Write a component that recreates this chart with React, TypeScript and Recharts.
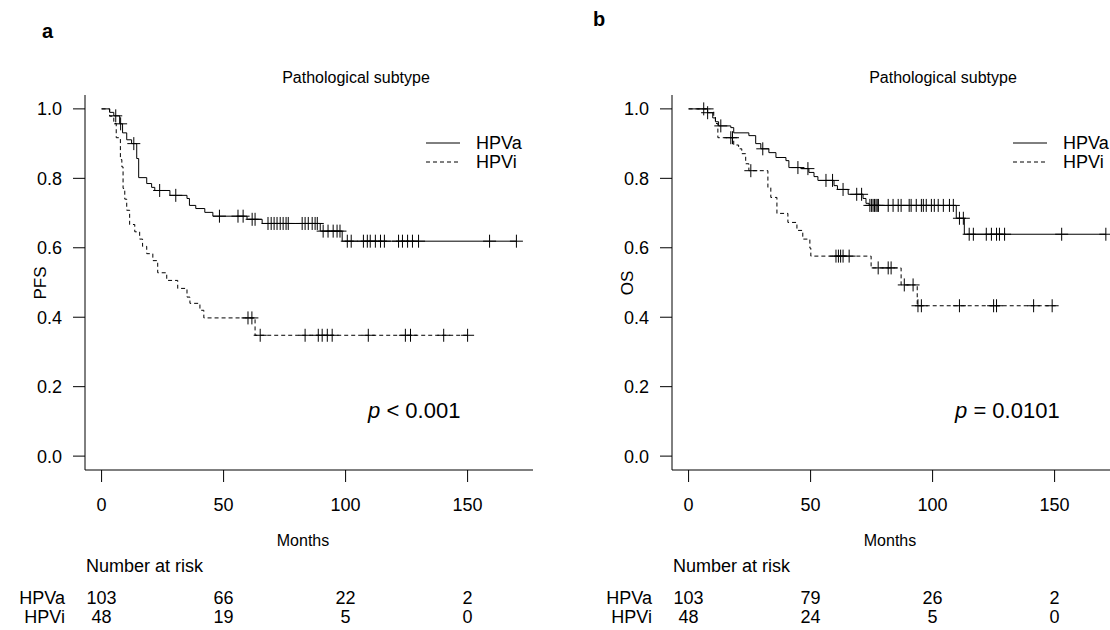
import { ComposedChart, Line, Scatter, XAxis, YAxis } from 'recharts';

const FONT = '"Liberation Sans", Arial, sans-serif';

const monthTicks = [0, 50, 100, 150];
const survTicks = [0, 0.2, 0.4, 0.6, 0.8, 1.0];
const riskTimes = [0, 50, 100, 150];
const groupNames = ['HPVa', 'HPVi'];

// a: PFS, HPVa
const pfsHpvaTimes = [3.3, 5.0, 7.4, 8.6, 10.3, 12.3, 14.4, 15.2, 18.5, 20.5, 21.8, 28, 35, 36, 38.6, 42.3, 45.6, 59.6, 65.8, 89.6, 98.6];
const pfsHpvaSurv = [0.99, 0.98, 0.957, 0.931, 0.911, 0.9, 0.857, 0.802, 0.785, 0.774, 0.765, 0.751, 0.742, 0.722, 0.713, 0.702, 0.691, 0.682, 0.67, 0.648, 0.619];
const pfsHpvaCensored = [5.8, 7.8, 13.2, 23.8, 30.4, 48.3, 55.9, 58, 61.7, 62.9, 68.2, 69.5, 70.7, 71.9, 73.2, 74.4, 75.6, 76.5, 82.2, 83.4, 84.7, 86.3, 87.5, 88.4, 90.8, 92.8, 94.9, 96.5, 97.7, 100.7, 102.3, 107.3, 108.9, 110.1, 112.2, 114.3, 115.9, 121.7, 123.3, 125.4, 127.4, 129.9, 159, 170];
const pfsHpvaEnd = 170;

// a: PFS, HPVi
const pfsHpviTimes = [3.3, 5.0, 6.0, 7.7, 8.3, 8.8, 9.5, 10.3, 11.5, 13.6, 15.6, 16.8, 18.5, 21, 23, 26.7, 31.2, 35, 36.2, 40.3, 41.9, 62.9];
const pfsHpviSurv = [0.979, 0.958, 0.917, 0.854, 0.833, 0.771, 0.74, 0.708, 0.667, 0.646, 0.625, 0.604, 0.583, 0.563, 0.528, 0.506, 0.483, 0.458, 0.44, 0.42, 0.398, 0.348];
const pfsHpviCensored = [60, 61.6, 65, 83.4, 88.8, 90.4, 92.5, 94.5, 109.3, 124.5, 126.6, 140.2, 150];
const pfsHpviEnd = 150;

// b: OS, HPVa
const osHpvaTimes = [7.8, 9.9, 11, 12.3, 17.3, 18.5, 24.7, 27.5, 29.6, 32.9, 35.8, 39.9, 41.1, 46, 49.3, 51.4, 53, 59.6, 61, 65.4, 71.5, 72.7, 74, 109.7, 113];
const osHpvaSurv = [0.989, 0.974, 0.963, 0.951, 0.946, 0.931, 0.923, 0.9, 0.885, 0.874, 0.86, 0.851, 0.831, 0.828, 0.817, 0.805, 0.794, 0.779, 0.768, 0.754, 0.742, 0.728, 0.722, 0.685, 0.639];
const osHpvaCensored = [6.2, 7.8, 13.2, 30.4, 44.8, 48.9, 56.3, 59, 63.3, 68.9, 70.9, 74.3, 75, 75.6, 76.2, 76.8, 77.3, 77.8, 81.8, 83.8, 85.9, 87.1, 90.4, 91.2, 93.3, 95.4, 96.2, 97.4, 99.5, 100.7, 102.3, 104.4, 106.9, 108.5, 111, 112.6, 115, 116.7, 122, 124.1, 126.2, 127.4, 129.5, 152.9, 171];
const osHpvaEnd = 171;

// b: OS, HPVi
const osHpviTimes = [10.3, 11, 12, 18.5, 20.5, 21.8, 23.4, 24.7, 32.5, 33.7, 36.2, 40.7, 44.4, 46.8, 49.7, 50.1, 74.8, 87.1, 93.7];
const osHpviSurv = [0.979, 0.958, 0.917, 0.896, 0.885, 0.871, 0.842, 0.822, 0.774, 0.745, 0.699, 0.673, 0.65, 0.625, 0.599, 0.576, 0.542, 0.493, 0.433];
const osHpviCensored = [17.3, 18, 25.5, 60.4, 61.4, 62.3, 63.3, 65.8, 77.7, 81.8, 83, 88.4, 92, 94, 95.4, 111, 125, 126.2, 141.4, 149];
const osHpviEnd = 150.8;

const pfsRiskHpva = [103, 66, 22, 2];
const pfsRiskHpvi = [48, 19, 5, 0];
const osRiskHpva = [103, 79, 26, 2];
const osRiskHpvi = [48, 24, 5, 0];

const X_DOMAIN: [number, number] = [-6.8, 176.8];
const Y_DOMAIN: [number, number] = [-0.04, 1.04];
const PLOT_LEFT = 85;
const PLOT_RIGHT = 533;
const PLOT_TOP = 95;
const PLOT_BOTTOM = 470;
const CHART_W = 560;
const CHART_H = 630;

function stepData(times: number[], surv: number[], end: number) {
  const pts = [{ t: 0, s: 1 }];
  times.forEach((t, i) => pts.push({ t, s: surv[i] }));
  pts.push({ t: end, s: surv[surv.length - 1] });
  return pts;
}

function censorData(times: number[], surv: number[], censored: number[]) {
  return censored.map((c) => {
    let s = 1;
    times.forEach((t, i) => {
      if (t <= c) s = surv[i];
    });
    return { t: c, s };
  });
}

const Plus = (props: any) => {
  const { cx, cy } = props;
  if (cx == null || cy == null) return null;
  return (
    <path
      d={`M${cx - 6.5},${cy}H${cx + 6.5}M${cx},${cy - 6.5}V${cy + 6.5}`}
      stroke='#000'
      strokeWidth={1}
      fill='none'
    />
  );
};

function Label({ x, y, size = 18, anchor = 'start', bold, children }: any) {
  const shift = anchor === 'middle' ? '-50%' : anchor === 'end' ? '-100%' : '0';
  return (
    <div
      style={{
        position: 'absolute',
        left: x,
        top: y - size * 0.49,
        fontSize: size,
        lineHeight: 1,
        fontWeight: bold ? 'bold' : 'normal',
        whiteSpace: 'nowrap',
        transform: `translateX(${shift})`,
        color: '#000',
      }}
    >
      {children}
    </div>
  );
}

function monthX(t: number) {
  return PLOT_LEFT + ((t - X_DOMAIN[0]) / (X_DOMAIN[1] - X_DOMAIN[0])) * (PLOT_RIGHT - PLOT_LEFT);
}

function KmPanel({ left, yLabel, pValue, curves, risk }: any) {
  return (
    <div style={{ position: 'absolute', left, top: 0, width: CHART_W, height: CHART_H }}>
      <ComposedChart
        width={CHART_W}
        height={CHART_H}
        margin={{ top: PLOT_TOP, right: CHART_W - PLOT_RIGHT, bottom: CHART_H - PLOT_BOTTOM - 30, left: PLOT_LEFT - 60 }}
      >
        <XAxis
          dataKey='t'
          type='number'
          domain={X_DOMAIN}
          ticks={monthTicks}
          allowDataOverflow
          stroke='#000'
          tickSize={12}
          tickMargin={16}
          tick={{ fill: '#000', fontSize: 18 }}
          height={30}
        />
        <YAxis
          dataKey='s'
          type='number'
          domain={Y_DOMAIN}
          ticks={survTicks}
          allowDataOverflow
          stroke='#000'
          tickSize={12}
          tickMargin={11}
          tick={{ fill: '#000', fontSize: 18 }}
          tickFormatter={(v: number) => v.toFixed(1)}
          width={60}
        />
        {curves.map((c: any, i: number) => (
          <Line
            key={'l' + i}
            data={stepData(c.times, c.surv, c.end)}
            dataKey='s'
            type='stepAfter'
            stroke='#000'
            strokeWidth={1}
            strokeDasharray={i === 1 ? '4 3' : undefined}
            dot={false}
            activeDot={false}
            isAnimationActive={false}
          />
        ))}
        {curves.map((c: any, i: number) => (
          <Scatter
            key={'c' + i}
            data={censorData(c.times, c.surv, c.censored)}
            dataKey='s'
            shape={Plus}
            isAnimationActive={false}
          />
        ))}
      </ComposedChart>

      <Label x={356} y={78} size={16} anchor='middle'>Pathological subtype</Label>
      <svg style={{ position: 'absolute', left: 0, top: 0 }} width={CHART_W} height={CHART_H} pointerEvents='none'>
        <line x1={426} x2={460} y1={143} y2={143} stroke='#000' strokeWidth={1} />
        <line x1={426} x2={460} y1={162} y2={162} stroke='#000' strokeWidth={1} strokeDasharray='4 3' />
      </svg>
      <Label x={476} y={143}>{groupNames[0]}</Label>
      <Label x={476} y={162}>{groupNames[1]}</Label>

      <Label x={368} y={411} size={22}>
        <i>p</i> {pValue}
      </Label>

      <div
        style={{
          position: 'absolute',
          left: 40,
          top: (PLOT_TOP + PLOT_BOTTOM) / 2,
          fontSize: 17,
          lineHeight: 1,
          whiteSpace: 'nowrap',
          transform: 'translate(-50%, -50%) rotate(-90deg)',
        }}
      >
        {yLabel}
      </div>
      <Label x={303} y={541} size={16} anchor='middle'>Months</Label>

      <Label x={86} y={566}>Number at risk</Label>
      <Label x={65} y={598} anchor='end'>{groupNames[0]}</Label>
      <Label x={65} y={617} anchor='end'>{groupNames[1]}</Label>
      {riskTimes.map((t, i) => (
        <Label key={'ra' + i} x={monthX(t)} y={598} anchor='middle'>{risk[0][i]}</Label>
      ))}
      {riskTimes.map((t, i) => (
        <Label key={'ri' + i} x={monthX(t)} y={617} anchor='middle'>{risk[1][i]}</Label>
      ))}
    </div>
  );
}

export default function App() {
  return (
    <div
      style={{
        position: 'absolute',
        left: 0,
        top: 0,
        width: 1110,
        height: 630,
        overflow: 'hidden',
        background: '#fff',
        fontFamily: FONT,
      }}
    >
      <Label x={42} y={31} size={20} bold>a</Label>
      <Label x={593} y={19} size={20} bold>b</Label>
      <KmPanel
        left={0}
        yLabel='PFS'
        pValue='< 0.001'
        curves={[
          { times: pfsHpvaTimes, surv: pfsHpvaSurv, censored: pfsHpvaCensored, end: pfsHpvaEnd },
          { times: pfsHpviTimes, surv: pfsHpviSurv, censored: pfsHpviCensored, end: pfsHpviEnd },
        ]}
        risk={[pfsRiskHpva, pfsRiskHpvi]}
      />
      <KmPanel
        left={587}
        yLabel='OS'
        pValue='= 0.0101'
        curves={[
          { times: osHpvaTimes, surv: osHpvaSurv, censored: osHpvaCensored, end: osHpvaEnd },
          { times: osHpviTimes, surv: osHpviSurv, censored: osHpviCensored, end: osHpviEnd },
        ]}
        risk={[osRiskHpva, osRiskHpvi]}
      />
    </div>
  );
}
